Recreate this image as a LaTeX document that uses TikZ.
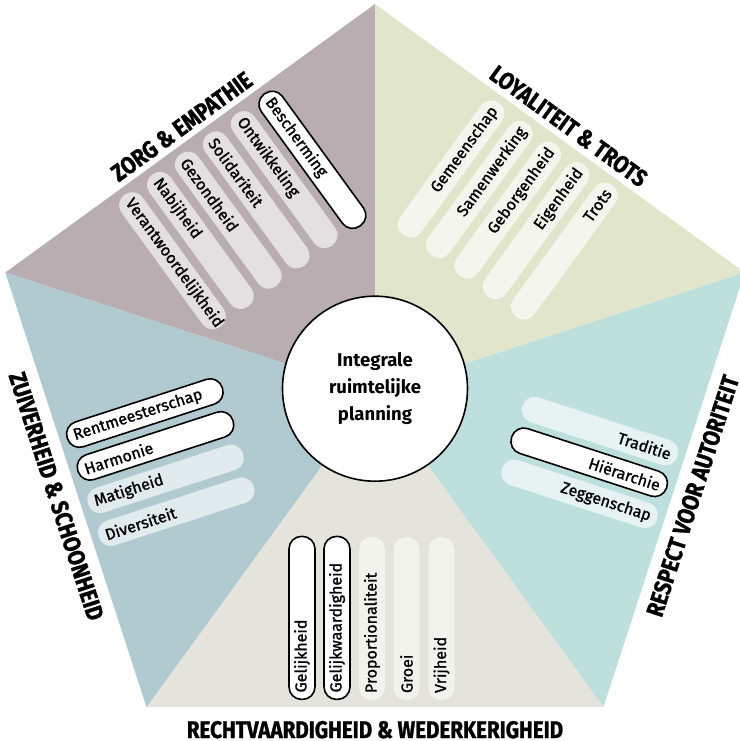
\documentclass[tikz,border=0pt]{standalone}
\usepackage{fontspec}
\setmainfont{Fira Sans}
\newfontfamily\headfont[FakeStretch=0.86, FakeBold=1.2]{Fira Sans}
\newfontfamily\pillfont[FakeBold=1.2]{Fira Sans}

\definecolor{zorg}{RGB}{184,173,177}
\definecolor{zorgpill}{RGB}{228,223,225}
\definecolor{loyaal}{RGB}{225,229,204}
\definecolor{loyaalpill}{RGB}{244,245,236}
\definecolor{respect}{RGB}{189,224,221}
\definecolor{respectpill}{RGB}{230,243,242}
\definecolor{recht}{RGB}{229,228,220}
\definecolor{rechtpill}{RGB}{243,243,238}
\definecolor{zuiver}{RGB}{176,202,208}
\definecolor{zuiverpill}{RGB}{225,234,236}

\begin{document}
\begin{tikzpicture}[x=1pt, y=1pt,
    pill/.style={transform shape, rounded corners=12.5pt, minimum width=163pt, minimum height=26pt,
                 text width=149pt, inner xsep=7pt, inner ysep=0pt, font=\pillfont\fontsize{16}{17}\selectfont},
    inward/.style={pill, rotate=180, anchor=west, align=left},
    outward/.style={pill, anchor=east, align=right},
    marked/.style={fill=white, draw=black, line width=1.6pt},
    title/.style={font=\headfont\bfseries\fontsize{24}{24}\selectfont, inner sep=0pt}]

    \useasboundingbox (-375,-348.3) rectangle ++(739,741);

    % Corners of the pentagon
    \coordinate (mid)         at (0,0);
    \coordinate (top)         at (90:388.7);
    \coordinate (left)        at (162:388.7);
    \coordinate (bottomleft)  at (234:388.7);
    \coordinate (bottomright) at (306:388.7);
    \coordinate (right)       at (18:388.7);

    % Sectors
    \fill [zorg]    (mid) -- (left) -- (top) -- cycle;
    \fill [loyaal]  (mid) -- (top) -- (right) -- cycle;
    \fill [respect] (mid) -- (right) -- (bottomright) -- cycle;
    \fill [recht]   (mid) -- (bottomright) -- (bottomleft) -- cycle;
    \fill [zuiver]  (mid) -- (bottomleft) -- (left) -- cycle;

    % Zorg & empathie
    \begin{scope}[rotate=126]
    \node [inward, marked]         (bescherming)   at (307.5,-86.25) {Bescherming};
    \node [inward, fill=zorgpill]  (ontwikkeling)  at (307.5,-51.75) {Ontwikkeling};
    \node [inward, fill=zorgpill]  (solidariteit)  at (307.5,-17.25) {Solidariteit};
    \node [inward, fill=zorgpill]  (gezondheid)    at (307.5,17.25)  {Gezondheid};
    \node [inward, fill=zorgpill]  (nabijheid)     at (307.5,51.75)  {Nabijheid};
    \node [inward, fill=zorgpill]  (verantwoord)   at (307.5,86.25)  {Verantwoordelijkheid};
    \end{scope}

    % Loyaliteit & trots
    \begin{scope}[rotate=54]
    \node [outward, fill=loyaalpill] (gemeenschap)  at (307.5,70)  {Gemeenschap};
    \node [outward, fill=loyaalpill] (samenwerking) at (307.5,35)  {Samenwerking};
    \node [outward, fill=loyaalpill] (geborgenheid) at (307.5,0)   {Geborgenheid};
    \node [outward, fill=loyaalpill] (eigenheid)    at (307.5,-35) {Eigenheid};
    \node [outward, fill=loyaalpill] (trots)        at (307.5,-70) {Trots};
    \end{scope}

    % Respect voor autoriteit
    \begin{scope}[rotate=-18]
    \node [outward, fill=respectpill] (traditie)     at (307.5,33)  {Traditie};
    \node [outward, marked]           (hierarchie)   at (307.5,0)   {Hiërarchie};
    \node [outward, fill=respectpill] (zeggenschap)  at (307.5,-33) {Zeggenschap};
    \end{scope}

    % Rechtvaardigheid & wederkerigheid
    \begin{scope}[rotate=-90]
    \node [inward, marked]          (gelijkheid)   at (307.5,-73)  {Gelijkheid};
    \node [inward, marked]          (gelijkwaard)  at (307.5,-38)  {Gelijkwaardigheid};
    \node [inward, fill=rechtpill]  (proportie)    at (307.5,-3)   {Proportionaliteit};
    \node [inward, fill=rechtpill]  (groei)        at (307.5,31.5) {Groei};
    \node [inward, fill=rechtpill]  (vrijheid)     at (307.5,66.5) {Vrijheid};
    \end{scope}

    % Zuiverheid & schoonheid
    \begin{scope}[rotate=198]
    \node [inward, marked]          (rentmeester)  at (307.5,-51.75) {Rentmeesterschap};
    \node [inward, marked]          (harmonie)     at (307.5,-17.25) {Harmonie};
    \node [inward, fill=zuiverpill] (matigheid)    at (307.5,17.25)  {Matigheid};
    \node [inward, fill=zuiverpill] (diversiteit)  at (307.5,51.75)  {Diversiteit};
    \end{scope}

    % Titles along the edges
    \node [title, rotate=36]  (zorgtitle)    at (126:329)   {ZORG \& EMPATHIE};
    \node [title, rotate=-36] (loyaaltitle)  at (54:329.5)  {LOYALITEIT \& TROTS};
    \node [title, rotate=72]  (respecttitle) at (-18:334)   {RESPECT VOOR AUTORITEIT};
    \node [title]             (rechttitle)   at (-90:337)   {RECHTVAARDIGHEID \& WEDERKERIGHEID};
    \node [title, rotate=-72] (zuivertitle)  at (198:335)   {ZUIVERHEID \& SCHOONHEID};

    % Centre
    \node [circle, draw, line width=1.6pt, fill=white, minimum size=185pt, align=center,
           font=\bfseries\fontsize{18.5}{26.7}\selectfont] (centre) at (0,4) {Integrale\\ruimtelijke\\planning};

\end{tikzpicture}
\end{document}
